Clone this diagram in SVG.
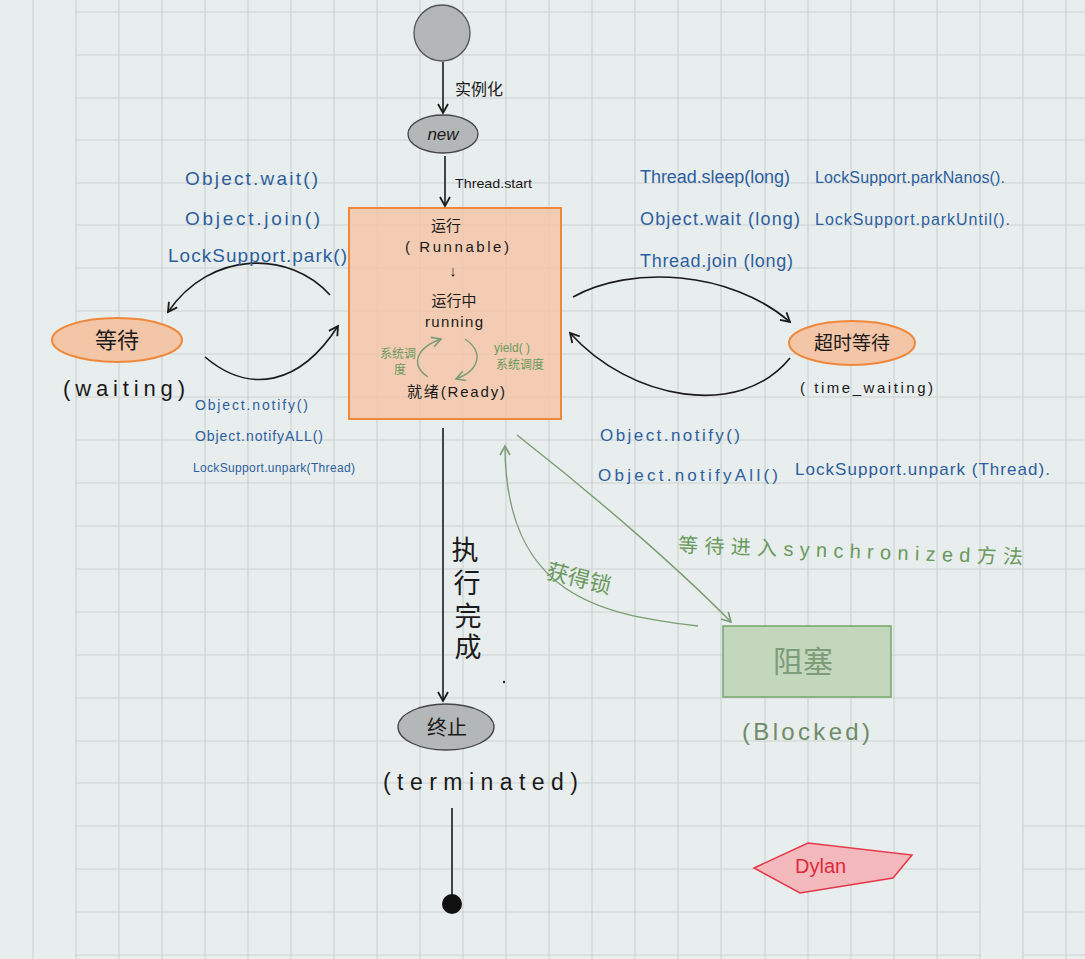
<svg xmlns="http://www.w3.org/2000/svg" width="1085" height="959" viewBox="0 0 1085 959">
<defs>
<style>
.grid line{stroke:#cdd2d2;stroke-width:1.2}
.t{font-family:"Liberation Sans","Noto Sans CJK SC",sans-serif}
.blue{fill:#2d5f9e}
.blk{fill:#1a1a1a}
.grn{fill:#6a9a5e}
.conn{fill:none;stroke:#1a1a1a;stroke-width:1.6}
.gconn{fill:none;stroke:#7a9c76;stroke-width:1.4}
</style>
<marker id="ah" viewBox="0 0 12 12" refX="10" refY="6" markerWidth="12" markerHeight="12" markerUnits="userSpaceOnUse" orient="auto">
<path d="M1,1 L10,6 L1,11" fill="none" stroke="#1a1a1a" stroke-width="1.8"/>
</marker>
<marker id="gah" viewBox="0 0 12 12" refX="10" refY="6" markerWidth="12" markerHeight="12" markerUnits="userSpaceOnUse" orient="auto">
<path d="M1,1 L10,6 L1,11" fill="none" stroke="#7a9c76" stroke-width="1.6"/>
</marker>
</defs>
<rect width="1085" height="959" fill="#e8eded"/>
<g class="grid">
<line x1="33" y1="0" x2="33" y2="959"/><line x1="76" y1="0" x2="76" y2="959"/><line x1="119" y1="0" x2="119" y2="959"/><line x1="162" y1="0" x2="162" y2="959"/><line x1="205" y1="0" x2="205" y2="959"/><line x1="248" y1="0" x2="248" y2="959"/><line x1="291" y1="0" x2="291" y2="959"/><line x1="334" y1="0" x2="334" y2="959"/><line x1="377" y1="0" x2="377" y2="959"/><line x1="420" y1="0" x2="420" y2="959"/><line x1="463" y1="0" x2="463" y2="959"/><line x1="506" y1="0" x2="506" y2="959"/><line x1="549" y1="0" x2="549" y2="959"/><line x1="592" y1="0" x2="592" y2="959"/><line x1="635" y1="0" x2="635" y2="959"/><line x1="678" y1="0" x2="678" y2="959"/><line x1="721" y1="0" x2="721" y2="959"/><line x1="765" y1="0" x2="765" y2="959"/><line x1="808" y1="0" x2="808" y2="959"/><line x1="851" y1="0" x2="851" y2="959"/><line x1="894" y1="0" x2="894" y2="959"/><line x1="937" y1="0" x2="937" y2="959"/><line x1="980" y1="0" x2="980" y2="959"/><line x1="1023" y1="0" x2="1023" y2="959"/><line x1="1066" y1="0" x2="1066" y2="959"/>
<line x1="76" y1="12" x2="1085" y2="12"/><line x1="76" y1="55" x2="1085" y2="55"/><line x1="76" y1="98" x2="1085" y2="98"/><line x1="76" y1="140" x2="1085" y2="140"/><line x1="76" y1="183" x2="1085" y2="183"/><line x1="76" y1="225" x2="1085" y2="225"/><line x1="76" y1="268" x2="1085" y2="268"/><line x1="76" y1="311" x2="1085" y2="311"/><line x1="76" y1="354" x2="1085" y2="354"/><line x1="76" y1="397" x2="1085" y2="397"/><line x1="76" y1="440" x2="1085" y2="440"/><line x1="76" y1="483" x2="1085" y2="483"/><line x1="76" y1="526" x2="1085" y2="526"/><line x1="76" y1="569" x2="1085" y2="569"/><line x1="76" y1="612" x2="1085" y2="612"/><line x1="76" y1="655" x2="1085" y2="655"/><line x1="76" y1="698" x2="1085" y2="698"/><line x1="76" y1="741" x2="1085" y2="741"/><line x1="76" y1="783" x2="980" y2="783"/><line x1="1023" y1="826" x2="1085" y2="826"/><line x1="76" y1="826" x2="980" y2="826"/><line x1="1023" y1="869" x2="1085" y2="869"/><line x1="76" y1="869" x2="980" y2="869"/><line x1="1023" y1="912" x2="1085" y2="912"/><line x1="76" y1="912" x2="980" y2="912"/><line x1="1023" y1="955" x2="1085" y2="955"/><line x1="76" y1="955" x2="980" y2="955"/>
</g>

<g id="runnable">
<rect x="349" y="208" width="212" height="211" fill="#f4c6a8" fill-opacity="0.85" stroke="#f0883c" stroke-width="2"/>
<text class="t blk" x="446" y="231" font-size="15" text-anchor="middle">运行</text>
<text class="t blk" x="405" y="252" font-size="15" textLength="104" lengthAdjust="spacing">( Runnable)</text>
<text class="t blk" x="453" y="276" font-size="15" text-anchor="middle">↓</text>
<text class="t blk" x="454" y="306" font-size="15" text-anchor="middle">运行中</text>
<text class="t blk" x="425" y="327" font-size="15" textLength="58" lengthAdjust="spacing">running</text>
<text class="t grn" x="380" y="358" font-size="12">系统调</text>
<text class="t grn" x="394" y="374" font-size="12">度</text>
<text class="t grn" x="494" y="352" font-size="12">yield( )</text>
<text class="t grn" x="496" y="369" font-size="12">系统调度</text>
<text class="t blk" x="407" y="397" font-size="15" textLength="98" lengthAdjust="spacing">就绪(Ready)</text>
</g>

<g id="connectors">
<path class="conn" d="M443,62 L443,113" marker-end="url(#ah)"/>
<path class="conn" d="M445,156 L445,206" marker-end="url(#ah)"/>
<path class="conn" d="M330,295 C290,250 210,250 168,312" marker-end="url(#ah)"/>
<path class="conn" d="M205,357 C250,395 300,385 338,326" marker-end="url(#ah)"/>
<path class="conn" d="M573,297 C630,265 730,270 790,322" marker-end="url(#ah)"/>
<path class="conn" d="M790,358 C740,420 630,400 570,333" marker-end="url(#ah)"/>
<path class="conn" d="M443,428 L443,701" marker-end="url(#ah)"/>
<path class="conn" d="M452,808 L452,896"/>
<path class="gconn" d="M517,435 C600,500 680,570 731,622" marker-end="url(#gah)"/>
<path class="gconn" d="M698,626 C600,615 505,595 505,446" marker-end="url(#gah)"/>
<path class="gconn" d="M428,377 C410,365 416,348 441,339" marker-end="url(#gah)"/>
<path class="gconn" d="M465,339 C484,352 480,370 456,379" marker-end="url(#gah)"/>
</g>

<g id="start">
<circle cx="442" cy="33" r="28" fill="#b4b7b7" stroke="#555" stroke-width="1.3"/>
</g>
<text class="t blk" x="455" y="95" font-size="16">实例化</text>

<g id="new">
<ellipse cx="443" cy="134" rx="35" ry="19" fill="#b4b7b7" stroke="#444" stroke-width="1.3"/>
<text class="t blk" x="443" y="140" font-size="17" font-style="italic" text-anchor="middle">new</text>
</g>
<text class="t blk" x="455" y="188" font-size="13" textLength="77" lengthAdjust="spacingAndGlyphs">Thread.start</text>

<g id="waiting">
<ellipse cx="117" cy="340" rx="65" ry="22" fill="#f4c6a8" stroke="#f0883c" stroke-width="2"/>
<text class="t blk" x="117" y="348" font-size="22" text-anchor="middle">等待</text>
<text class="t blk" x="63" y="396" font-size="22" textLength="122" lengthAdjust="spacing">(waiting)</text>
</g>

<g id="timed-waiting">
<ellipse cx="852" cy="343" rx="63" ry="22" fill="#f4c6a8" stroke="#f0883c" stroke-width="2"/>
<text class="t blk" x="852" y="350" font-size="19" text-anchor="middle">超时等待</text>
<text class="t blk" x="800" y="393" font-size="15" textLength="133" lengthAdjust="spacing">( time_waiting)</text>
</g>

<g id="terminated">
<ellipse cx="446" cy="727" rx="48" ry="23" fill="#b4b7b7" stroke="#444" stroke-width="1.3"/>
<text class="t blk" x="447" y="735" font-size="20" text-anchor="middle">终止</text>
<text class="t blk" x="383" y="790" font-size="23" textLength="195" lengthAdjust="spacing">(terminated)</text>
</g>

<g id="end">
<circle cx="452" cy="904" r="10" fill="#111"/>
</g>
<circle cx="504" cy="682" r="1.2" fill="#222"/>

<g id="blocked">
<rect x="723" y="626" width="168" height="71" fill="#c3d7bd" stroke="#7aaa70" stroke-width="1.6"/>
<text class="t" x="803" y="672" font-size="30" fill="#7e9c78" text-anchor="middle">阻塞</text>
<text class="t" x="742" y="740" font-size="24" fill="#6e8c68" textLength="128" lengthAdjust="spacing">(Blocked)</text>
</g>

<g id="dylan">
<polygon points="754,868 808,843 912,855 893,878 800,893" fill="#f3b9bd" stroke="#e43848" stroke-width="1.5"/>
<text class="t" x="795" y="873" font-size="20" fill="#e02a3a">Dylan</text>
</g>

<g id="labels">
<text class="t blue" x="185" y="185" font-size="19" textLength="133" lengthAdjust="spacing">Object.wait()</text>
<text class="t blue" x="185" y="225" font-size="19" textLength="135" lengthAdjust="spacing">Object.join()</text>
<text class="t blue" x="168" y="262" font-size="19" textLength="179" lengthAdjust="spacing">LockSupport.park()</text>
<text class="t blue" x="195" y="410" font-size="14" textLength="113" lengthAdjust="spacing">Object.notify()</text>
<text class="t blue" x="195" y="441" font-size="14" textLength="128" lengthAdjust="spacing">Object.notifyALL()</text>
<text class="t blue" x="193" y="472" font-size="12" textLength="162" lengthAdjust="spacing">LockSupport.unpark(Thread)</text>
<text class="t blue" x="640" y="183" font-size="18" textLength="150" lengthAdjust="spacing">Thread.sleep(long)</text>
<text class="t blue" x="815" y="183" font-size="16" textLength="190" lengthAdjust="spacing">LockSupport.parkNanos().</text>
<text class="t blue" x="640" y="225" font-size="18" textLength="160" lengthAdjust="spacing">Object.wait (long)</text>
<text class="t blue" x="815" y="225" font-size="16" textLength="195" lengthAdjust="spacing">LockSupport.parkUntil().</text>
<text class="t blue" x="640" y="267" font-size="18" textLength="153" lengthAdjust="spacing">Thread.join  (long)</text>
<text class="t blue" x="600" y="441" font-size="17" textLength="140" lengthAdjust="spacing">Object.notify()</text>
<text class="t blue" x="598" y="481" font-size="17" textLength="180" lengthAdjust="spacing">Object.notifyAll()</text>
<text class="t blue" x="795" y="475" font-size="17" textLength="255" lengthAdjust="spacing">LockSupport.unpark (Thread).</text>
<text class="t blk" font-size="27" text-anchor="middle"><tspan x="465" y="560">执</tspan><tspan x="467" y="593">行</tspan><tspan x="468" y="626">完</tspan><tspan x="468" y="657">成</tspan></text>
<text class="t grn" x="545" y="578" font-size="22" transform="rotate(14 545 578)">获得锁</text>
<text class="t grn" x="678" y="552" font-size="20" textLength="345" lengthAdjust="spacing" transform="rotate(2 678 552)">等待进入synchronized方法</text>
</g>
</svg>
